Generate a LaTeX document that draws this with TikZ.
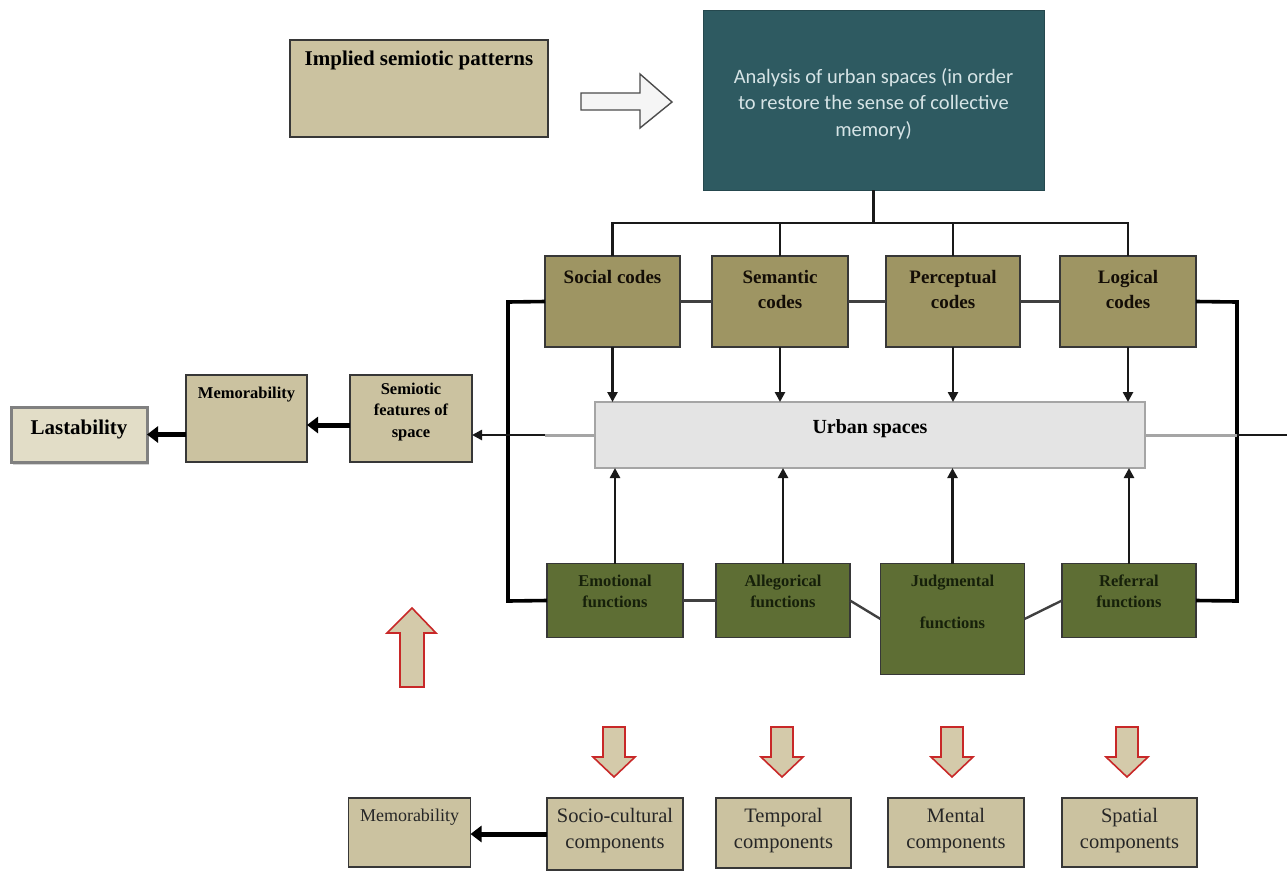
\documentclass[tikz,border=0pt]{standalone}
\usepackage{fontspec}
\setmainfont{Liberation Serif}
\newfontfamily\calib{Carlito}
\usetikzlibrary{arrows.meta,shadows}
\definecolor{tanbox}{RGB}{203,194,160}
\definecolor{lastfill}{RGB}{226,221,199}
\definecolor{codefill}{RGB}{158,149,99}
\definecolor{funcfill}{RGB}{94,110,52}
\definecolor{tealfill}{RGB}{46,90,97}
\definecolor{tealtext}{RGB}{214,228,230}
\definecolor{urbanfill}{RGB}{228,228,228}
\definecolor{urbanline}{RGB}{165,165,165}
\definecolor{bordc}{RGB}{55,55,55}
\definecolor{redarrow}{RGB}{200,40,40}
\definecolor{redfill}{RGB}{212,202,170}
\definecolor{functext}{RGB}{22,32,10}
\begin{document}
\begin{tikzpicture}[x=1pt,y=-1pt,
  bx/.style={draw=bordc, line width=1.8pt, inner sep=0pt, outer sep=0pt},
  tanb/.style={bx, fill=tanbox},
  codeb/.style={bx, fill=codefill},
  funcb/.style={bx, fill=funcfill},
  botb/.style={bx, fill=tanbox},
  bigbold/.style={font=\fontsize{21}{25}\selectfont\bfseries, align=center, inner sep=0pt},
  codetext/.style={font=\fontsize{19}{25}\selectfont\bfseries, align=center, inner sep=0pt, text=black!90!brown},
  smallbold/.style={font=\fontsize{16.5}{21.5}\selectfont\bfseries, align=center, inner sep=0pt},
  functxt/.style={font=\fontsize{16.5}{21}\selectfont\bfseries, align=center, inner sep=0pt, text=functext},
  regtext/.style={font=\fontsize{20.5}{26}\selectfont, align=center, inner sep=0pt, text=black!85},
  conn/.style={line width=2.6pt, draw=black!90},
  thinconn/.style={line width=2.4pt, draw=black!75},
  thickl/.style={line width=3.6pt, draw=black},
  grayl/.style={line width=3pt, draw=urbanline},
  tip/.style={-{Triangle[length=10pt,width=10pt]}},
  fat/.style={line width=5pt, -{Triangle[length=11pt,width=16pt]}},
  hollow/.style={draw=black!70, line width=1.4pt, fill=white!96!black},
  redarr/.style={draw=redarrow, line width=1.6pt, fill=redfill, line join=miter}
]
\useasboundingbox (0,0) rectangle (1287,873);

% top row
\node[tanb, minimum width=258pt, minimum height=97pt] (isp) at (419,88.5) {};
\node[bigbold] (isptext) at (419,60) {Implied semiotic patterns};
\draw[hollow] (581,93) -- (640,93) -- (640,74) -- (672,102) -- (640,128) -- (640,110) -- (581,110) -- cycle;
\node[bx, draw=tealfill!80!black, line width=1pt, fill=tealfill, minimum width=341pt, minimum height=180pt] (teal) at (873.5,100) {};
\node[font=\calib\fontsize{20.5}{26.5}\selectfont, text=tealtext, align=center, inner sep=0pt] (tealtext) at (873.5,104)
  {Analysis of urban spaces (in order\\to restore the sense of collective\\memory)};

% codes
\node[codeb, minimum width=135pt, minimum height=91pt] (social) at (612.5,301.5) {};
\node[codeb, minimum width=136pt, minimum height=91pt] (semantic) at (780,301.5) {};
\node[codeb, minimum width=134pt, minimum height=91pt] (perceptual) at (953,301.5) {};
\node[codeb, minimum width=136pt, minimum height=91pt] (logical) at (1128,301.5) {};
\node[codetext] (socialtext) at (612.5,277) {Social codes};
\node[codetext] (semantictext) at (780,289.5) {Semantic\\codes};
\node[codetext] (perceptualtext) at (953,289.5) {Perceptual\\codes};
\node[codetext] (logicaltext) at (1128,289.5) {Logical\\codes};

% urban spaces
\node[bx, draw=urbanline, line width=1.6pt, fill=urbanfill, minimum width=550pt, minimum height=66pt] (urban) at (870,435) {};
\node[font=\fontsize{20}{23}\selectfont\bfseries, inner sep=0pt] (urbantext) at (870,429) {Urban spaces};

% left chain
\node[tanb, minimum width=122pt, minimum height=87pt] (semiotic) at (411,418.5) {};
\node[smallbold] (semiotictext) at (411,412) {Semiotic\\features of\\space};
\node[tanb, minimum width=121pt, minimum height=87pt] (memo) at (246.5,418.5) {};
\node[smallbold] (memotext) at (246.5,395) {Memorability};
\node[bx, draw=black!50, line width=3pt, fill=lastfill, minimum width=136pt, minimum height=55pt,
  drop shadow={opacity=0.35, shadow xshift=2pt, shadow yshift=-3pt}] (last) at (79,434.5) {};
\node[font=\fontsize{21}{25}\selectfont\bfseries, inner sep=0pt] (lasttext) at (79,429) {Lastability};

% functions
\node[funcb, minimum width=136pt, minimum height=74pt] (emotional) at (615,600.5) {};
\node[funcb, minimum width=134pt, minimum height=74pt] (allegorical) at (783,600.5) {};
\node[funcb, minimum width=144pt, minimum height=111pt] (judgmental) at (952.5,619) {};
\node[funcb, minimum width=134pt, minimum height=74pt] (referral) at (1129,600.5) {};
\node[functxt] (emotionaltext) at (615,591.5) {Emotional\\functions};
\node[functxt] (allegoricaltext) at (783,591.5) {Allegorical\\functions};
\node[functxt] (judgmentaltext) at (952.5,602) {Judgmental\\[21pt]functions};
\node[functxt] (referraltext) at (1129,591.5) {Referral\\functions};

% bottom components
\node[botb, minimum width=122pt, minimum height=69pt] (memob) at (409.5,832.5) {};
\node[font=\fontsize{18}{22}\selectfont, inner sep=0pt, text=black!85] (memobtext) at (409.5,817) {Memorability};
\node[botb, minimum width=136pt, minimum height=72pt] (socio) at (615,834) {};
\node[botb, minimum width=135pt, minimum height=70pt] (temporal) at (783.5,833) {};
\node[botb, minimum width=136pt, minimum height=69pt] (mental) at (956,832.5) {};
\node[botb, minimum width=135pt, minimum height=69pt] (spatial) at (1129.5,832.5) {};
\node[regtext] (sociotext) at (615,831) {Socio-cultural\\components};
\node[regtext] (temporaltext) at (783.5,831) {Temporal\\components};
\node[regtext] (mentaltext) at (956,831) {Mental\\components};
\node[regtext] (spatialtext) at (1129.5,831) {Spatial\\components};

% tree from analysis box
\coordinate (bus) at (873,223);
\draw[conn] (teal.south) -- (teal.south |- bus);
\draw[conn] (social.north) -- (social.north |- bus) -- (logical.north |- bus) -- (logical.north);
\draw[conn] (semantic.north) -- (semantic.north |- bus);
\draw[conn] (perceptual.north) -- (perceptual.north |- bus);

% links between codes
\draw[thinconn] (social.east) -- (semantic.west);
\draw[thinconn] (semantic.east) -- (perceptual.west);
\draw[thinconn] (perceptual.east) -- (logical.west);

% links between functions
\draw[thinconn] (emotional.east) -- (allegorical.west);
\draw[thinconn] (allegorical.east) -- (judgmental.west);
\draw[thinconn] (judgmental.east) -- (referral.west);

% side loops
\coordinate (lt) at (508,302);
\coordinate (lb) at (508,601);
\coordinate (rt) at (1237,302);
\coordinate (rb) at (1237,601);
\draw[thickl, line join=miter] (social.west) -- (lt) -- (lb) -- (emotional.west);
\draw[thickl, line join=miter] (logical.east) -- (rt) -- (rb) -- (referral.east);

% codes -> urban, functions -> urban
\foreach \n in {social,semantic,perceptual,logical}
  \draw[conn, tip] (\n.south) -- (\n.south |- urban.north);
\foreach \n in {emotional,allegorical,judgmental,referral}
  \draw[conn, tip] (\n.north) -- (\n.north |- urban.south);

% urban side lines
\coordinate (ul) at (545,435);
\coordinate (ur) at (1237,435);
\coordinate (edge) at (1287,435);
\draw[grayl] (urban.west) -- (ul);
\draw[conn, tip] (ul) -- (ul -| semiotic.east);
\draw[grayl] (urban.east) -- (ur);
\draw[conn] (ur) -- (edge);

% left chain arrows
\draw[fat] ([yshift=-6.5pt]semiotic.west) -- ([yshift=-6.5pt]semiotic.west -| memo.east);
\draw[fat] (memo.west |- last.east) -- (last.east);
\draw[fat] (socio.west) -- (socio.west -| memob.east);

% red block arrows
\draw[redarr] (400,687) -- (400,633) -- (387,633) -- (412,608) -- (436,633) -- (424,633) -- (424,687) -- cycle;
\foreach \cx in {614,782,952,1127}
  \draw[redarr] (\cx-11,727) -- (\cx+11,727) -- (\cx+11,757) -- (\cx+21,757) -- (\cx,777) -- (\cx-21,757) -- (\cx-11,757) -- cycle;
\end{tikzpicture}
\end{document}
